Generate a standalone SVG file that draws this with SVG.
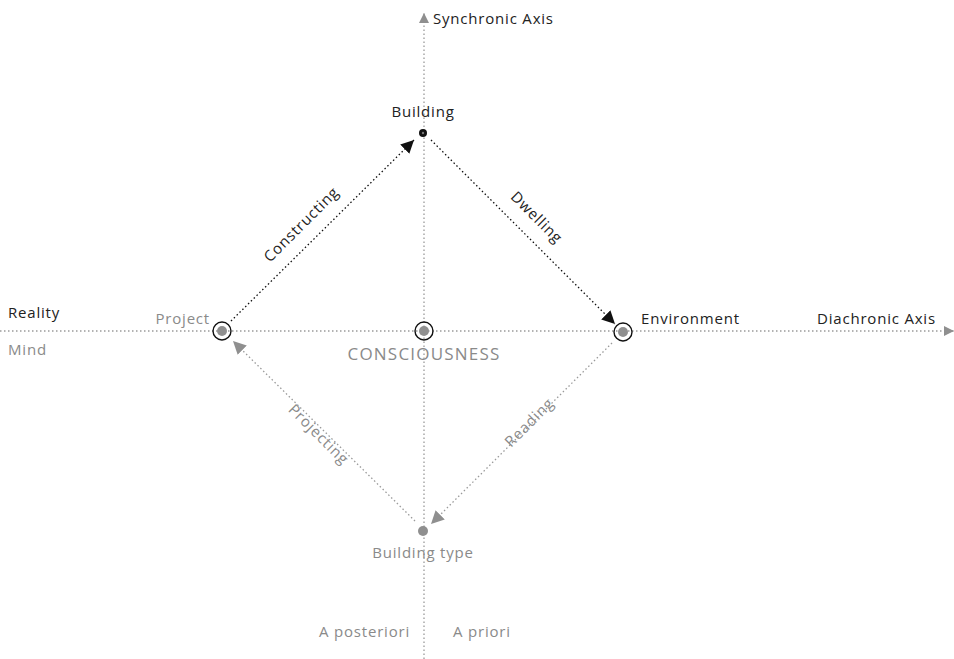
<svg xmlns="http://www.w3.org/2000/svg" width="954" height="659" viewBox="0 0 954 659">
<style>
text{font-family:"Open Sans","DejaVu Sans",sans-serif;font-size:15px;letter-spacing:0.8px}
.k{fill:#222}
.g{fill:#8a8a8a}
.axis{stroke:#9a9a9a;stroke-width:1.3;stroke-dasharray:1.5 2.5;fill:none}
.blk{stroke:#111;stroke-width:1.3;stroke-dasharray:1.5 2.5;fill:none}
.gry{stroke:#9a9a9a;stroke-width:1.3;stroke-dasharray:1.5 2.5;fill:none}
.ring{fill:none;stroke:#111;stroke-width:1.4}
.dot{fill:#8f8f8f}
</style>
<defs>
<marker id="ak" viewBox="0 0 10 10" refX="10" refY="5" markerWidth="13" markerHeight="13" markerUnits="userSpaceOnUse" orient="auto"><path d="M0,0L10,5L0,10z" fill="#111"/></marker>
<marker id="ag" viewBox="0 0 10 10" refX="10" refY="5" markerWidth="13" markerHeight="13" markerUnits="userSpaceOnUse" orient="auto"><path d="M0,0L10,5L0,10z" fill="#8f8f8f"/></marker>
<marker id="ax" viewBox="0 0 10 10" refX="10" refY="5" markerWidth="10" markerHeight="10" markerUnits="userSpaceOnUse" orient="auto"><path d="M0,0L10,5L0,10z" fill="#8f8f8f"/></marker>
</defs>
<g id="axes">
<line class="axis" x1="424" y1="659" x2="424" y2="13" marker-end="url(#ax)"/>
<line class="axis" x1="0" y1="331" x2="954" y2="331" marker-end="url(#ax)"/>
<text class="k" x="433" y="24">Synchronic Axis</text>
<text class="k" x="817" y="324">Diachronic Axis</text>
<text class="k" x="8" y="318">Reality</text>
<text class="g" x="8" y="355">Mind</text>
<text class="g" x="410" y="637" text-anchor="end">A posteriori</text>
<text class="g" x="453" y="637">A priori</text>
</g>
<g id="connectors">
<line class="blk" x1="231" y1="321" x2="414" y2="140" marker-end="url(#ak)"/>
<line class="blk" x1="431" y1="140" x2="615" y2="324" marker-end="url(#ak)"/>
<line class="gry" x1="612" y1="343" x2="431" y2="524" marker-end="url(#ag)"/>
<line class="gry" x1="415" y1="521" x2="233" y2="341" marker-end="url(#ag)"/>
<text class="k" transform="translate(305,228) rotate(-45)" text-anchor="middle">Constructing</text>
<text class="k" transform="translate(533,221) rotate(45)" text-anchor="middle">Dwelling</text>
<text class="g" transform="translate(315,438) rotate(45)" text-anchor="middle">Projecting</text>
<text class="g" transform="translate(533,426) rotate(-45)" text-anchor="middle">Reading</text>
</g>
<g id="building">
<circle cx="423" cy="133" r="4" fill="#111"/>
<circle cx="423" cy="133" r="1.2" fill="#777"/>
<text class="k" x="423" y="117" text-anchor="middle">Building</text>
</g>
<g id="project">
<circle class="ring" cx="222" cy="331" r="9"/>
<circle class="dot" cx="222" cy="331" r="5"/>
<text class="g" x="210" y="324" text-anchor="end">Project</text>
</g>
<g id="consciousness">
<circle class="ring" cx="424" cy="331" r="9"/>
<circle class="dot" cx="424" cy="331" r="5"/>
<text class="g" x="424" y="360" text-anchor="middle" style="font-size:17px;letter-spacing:1.2px">CONSCIOUSNESS</text>
</g>
<g id="environment">
<circle class="ring" cx="623" cy="332" r="9"/>
<circle class="dot" cx="623" cy="332" r="5"/>
<text class="k" x="641" y="324">Environment</text>
</g>
<g id="building-type">
<circle class="dot" cx="423" cy="531" r="5"/>
<text class="g" x="423" y="558" text-anchor="middle">Building type</text>
</g>
</svg>
